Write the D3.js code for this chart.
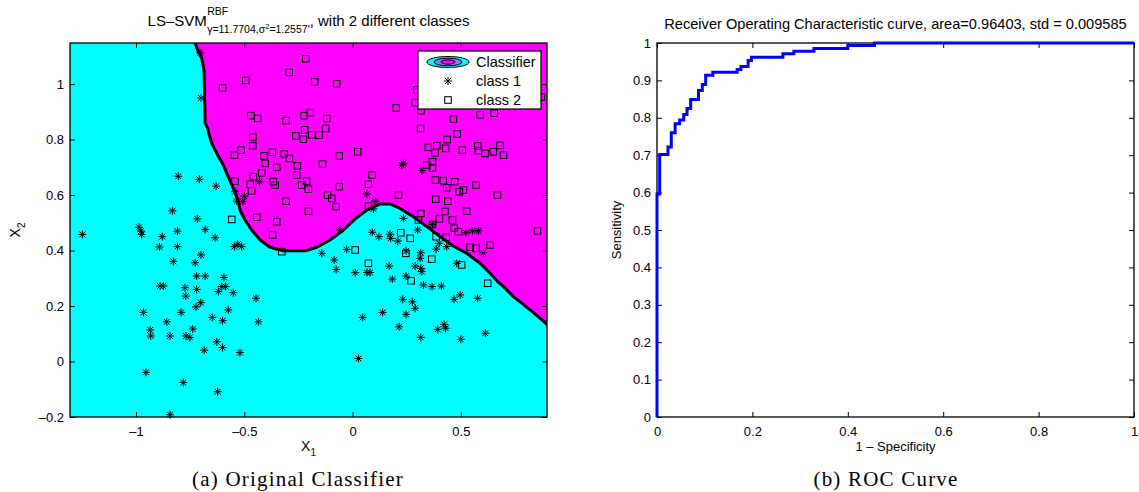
<!DOCTYPE html>
<html><head><meta charset="utf-8">
<script src="https://cdn.jsdelivr.net/npm/d3@7"></script>
<style>
body{margin:0;background:#fff}
svg{display:block}
text{font-family:"Liberation Sans",Arial,Helvetica,sans-serif;fill:#000}
</style>
</head><body>
<svg id="c" width="1139" height="492"></svg>
<script>
// ---------------- DATA ----------------
// Panel (a): LS-SVM classifier
const xLimA = [-1.305, 0.898];
const yLimA = [-0.2, 1.148];
const xTicksA = [-1, -0.5, 0, 0.5];
const yTicksA = [-0.2, 0, 0.2, 0.4, 0.6, 0.8, 1];

const class1 = [
[-0.704,1.112],[-0.700,0.950],[-1.248,0.458],[-0.986,0.484],[-0.977,0.470],[-0.974,0.458],[-0.879,0.450],[-0.892,0.413],[-0.809,0.470],[-0.809,0.414],[-0.828,0.361],[-0.832,0.543],[-0.805,0.668],[-0.708,0.657],[-0.630,0.632],[-0.717,0.514],[-0.681,0.476],[-0.635,0.446],[-0.700,0.384],[-0.727,0.356],[-0.720,0.308],[-0.681,0.308],[-0.594,0.303],[-0.889,0.272],[-0.874,0.272],[-0.774,0.266],[-0.720,0.260],[-0.604,0.270],[-0.586,0.270],[-0.546,0.414],[-0.530,0.423],[-0.512,0.414],[-0.543,0.612],[-0.535,0.578],[-0.507,0.576],[-0.500,0.596],[-0.430,0.648],[-0.142,0.390],[-0.085,0.366],[-0.076,0.332],[-0.027,0.404],[0.012,0.320],
[0.235,0.714],[0.227,0.708],[0.320,0.688],[0.066,0.604],[0.105,0.578],[0.096,0.550],[-0.058,0.474],[0.235,0.516],[0.370,0.494],[0.301,0.474],[0.523,0.464],[0.553,0.471],[0.581,0.471],[0.091,0.466],[0.122,0.450],[0.173,0.459],[0.176,0.444],[0.209,0.434],[0.247,0.399],[0.315,0.392],[0.386,0.405],[0.400,0.426],[0.435,0.414],[0.604,0.392],[0.312,0.372],[0.289,0.344],[0.315,0.336],[0.320,0.324],[0.169,0.344],[0.066,0.321],[0.081,0.321],[0.184,0.297],[0.247,0.308],[0.481,0.354],[0.327,0.276],[0.367,0.270],[0.410,0.272],
[-0.770,0.236],[-0.723,0.197],[-0.701,0.212],[-0.620,0.252],[-0.551,0.248],[-0.446,0.228],[-0.966,0.177],[-0.792,0.177],[-0.574,0.186],[-0.648,0.159],[-0.600,0.147],[-0.435,0.143],[-0.858,0.143],[-0.935,0.114],[-0.932,0.092],[-0.843,0.092],[-0.738,0.117],[-0.769,0.092],[-0.751,0.087],[-0.627,0.071],[-0.601,0.050],[-0.685,0.041],[-0.520,0.032],[-0.954,-0.039],[-0.782,-0.076],[-0.623,-0.109],[-0.843,-0.192],[0.027,0.011],
[0.469,0.224],[0.497,0.240],[0.578,0.228],[0.232,0.224],[0.276,0.215],[0.289,0.192],[0.139,0.177],[0.047,0.159],[0.247,0.170],[0.215,0.125],[0.394,0.116],[0.423,0.134],[0.430,0.120],[0.315,0.087],[0.500,0.080],[0.613,0.102]
];

const class2 = [
[-0.216,1.091],[-0.293,1.042],[-0.493,1.013],[-0.600,0.986],[-0.175,1.008],[-0.073,1.001],[-0.470,0.886],[-0.438,0.876],[-0.307,0.868],[-0.224,0.886],[-0.196,0.897],[-0.119,0.876],[-0.221,0.835],[-0.124,0.840],[-0.460,0.809],[-0.262,0.813],[-0.188,0.817],[-0.155,0.816],
[0.201,0.914],[0.297,0.979],[0.289,0.933],[0.316,0.904],[0.314,0.840],[0.466,0.874],[0.589,0.889],[0.654,0.895],[0.483,0.820],[0.437,0.800],[0.871,0.953],
[-0.558,0.512],[-0.327,0.396],[0.012,0.402],[-0.546,0.744],[-0.515,0.762],[-0.461,0.778],[-0.458,0.666],[-0.543,0.650],[-0.473,0.639],[-0.466,0.615],[-0.419,0.680],[-0.409,0.741],[-0.404,0.714],[-0.370,0.754],[-0.350,0.700],[-0.366,0.648],[-0.358,0.636],[-0.316,0.748],[-0.292,0.732],[-0.255,0.705],[-0.258,0.672],[-0.235,0.636],[-0.212,0.650],[-0.204,0.621],[-0.307,0.578],[-0.442,0.520],[-0.350,0.504],[-0.369,0.456],[-0.204,0.542],[-0.116,0.600],[-0.096,0.588],[-0.076,0.558],[-0.062,0.630],[-0.139,0.712],[-0.062,0.741],[0.024,0.756],[-0.227,0.801],
[0.349,0.772],[0.389,0.778],[0.381,0.752],[0.430,0.768],[0.507,0.762],[0.578,0.777],[0.581,0.760],[0.612,0.750],[0.650,0.756],[0.681,0.779],[0.697,0.744],[0.090,0.672],[0.073,0.639],[0.343,0.708],[0.369,0.720],[0.369,0.698],[0.381,0.654],[0.419,0.652],[0.472,0.648],[0.435,0.626],[0.512,0.618],[0.493,0.612],[0.570,0.636],[0.669,0.600],[0.212,0.600],[0.384,0.585],[0.440,0.578],[0.073,0.560],[0.527,0.542],[0.427,0.541],[0.316,0.534],[0.401,0.514],[0.461,0.510],[0.369,0.494],[0.469,0.481],[0.489,0.468],[0.432,0.448],[0.386,0.450],[0.635,0.420],[0.543,0.412],[0.570,0.408],[0.854,0.471],[0.223,0.464],[0.266,0.444],[0.246,0.390],[0.366,0.369],[0.073,0.354],[0.504,0.348],[0.270,0.291],[0.624,0.282],[0.304,0.510]
];

// decision boundary (contour of the classifier), from top edge to right edge
const boundary = [
[-0.727,1.148],[-0.714,1.119],[-0.697,1.094],[-0.686,1.050],[-0.681,0.859],[-0.669,0.841],[-0.666,0.827],[-0.650,0.786],[-0.627,0.750],[-0.597,0.708],[-0.574,0.666],[-0.551,0.624],[-0.527,0.576],[-0.520,0.546],[-0.497,0.510],[-0.466,0.474],[-0.427,0.438],[-0.381,0.412],[-0.320,0.399],[-0.219,0.399],[-0.165,0.412],[-0.104,0.438],[-0.042,0.474],[0.012,0.514],[0.066,0.546],[0.127,0.568],[0.173,0.568],[0.219,0.552],[0.281,0.522],[0.343,0.486],[0.404,0.450],[0.466,0.416],[0.527,0.390],[0.589,0.354],[0.635,0.318],[0.673,0.286],[0.697,0.270],[0.743,0.234],[0.774,0.215],[0.820,0.186],[0.866,0.156],[0.900,0.132]
];

// Panel (b): ROC curve (step vertices: FPR where TPR jumps)
const rocFPR = [0, 0, 0.0056, 0.023, 0.030, 0.038, 0.0475, 0.056, 0.063, 0.0706, 0.087, 0.095, 0.102, 0.117, 0.168, 0.176, 0.191, 0.198, 0.264, 0.287, 0.329, 0.400, 0.456, 1];
const rocTPR = [0, 0.596, 0.702, 0.722, 0.760, 0.784, 0.794, 0.809, 0.825, 0.849, 0.873, 0.889, 0.914, 0.922, 0.929, 0.937, 0.953, 0.962, 0.971, 0.978, 0.985, 0.993, 1.0, 1.0];
const xTicksB = [0, 0.2, 0.4, 0.6, 0.8, 1];
const yTicksB = [0, 0.1, 0.2, 0.3, 0.4, 0.5, 0.6, 0.7, 0.8, 0.9, 1];

const legendLabels = ["Classifier", "class 1", "class 2"];

// ---------------- DRAW ----------------
const svg = d3.select("#c");
const defs = svg.append("defs");
const fmt = d => (d < 0 ? "\u2013" + String(Math.abs(d)) : String(d));
const TICK_FS = 13;

function frameAxes(g, x, y, box, xt, yt) {
  const ax = [
    [d3.axisBottom(x).tickValues(xt).tickFormat(fmt).tickPadding(10), `translate(0,${box.bottom})`],
    [d3.axisTop(x).tickValues(xt).tickFormat(""), `translate(0,${box.top})`],
    [d3.axisLeft(y).tickValues(yt).tickFormat(fmt).tickPadding(6), `translate(${box.left},0)`],
    [d3.axisRight(y).tickValues(yt).tickFormat(""), `translate(${box.right},0)`]
  ];
  ax.forEach(([a, t]) => {
    const s = g.append("g").attr("transform", t)
      .call(a.tickSizeInner(-5).tickSizeOuter(0));
    s.select(".domain").remove();
    s.selectAll("line").attr("stroke", "#000").attr("stroke-width", 1);
    s.selectAll("text").style("font-size", TICK_FS + "px")
      .style("font-family", '"Liberation Sans",Arial,sans-serif').attr("fill", "#000");
  });
  g.append("rect").attr("x", box.left).attr("y", box.top)
    .attr("width", box.right - box.left).attr("height", box.bottom - box.top)
    .attr("fill", "none").attr("stroke", "#000").attr("stroke-width", 1.3);
}

// ---- Panel A ----
const A = {left: 70, right: 547, top: 43, bottom: 417};
const xA = d3.scaleLinear().domain(xLimA).range([A.left, A.right]);
const yA = d3.scaleLinear().domain(yLimA).range([A.bottom, A.top]);
defs.append("clipPath").attr("id", "clipA").append("rect")
  .attr("x", A.left).attr("y", A.top).attr("width", A.right - A.left).attr("height", A.bottom - A.top);

const gA = svg.append("g");
gA.append("rect").attr("x", A.left).attr("y", A.top)
  .attr("width", A.right - A.left).attr("height", A.bottom - A.top).attr("fill", "#00ffff");

const poly = boundary.concat([[xLimA[1], yLimA[1]]]);
gA.append("path").datum(poly).attr("clip-path", "url(#clipA)")
  .attr("d", d3.line().x(d => xA(d[0])).y(d => yA(d[1])).curve(d3.curveLinearClosed))
  .attr("fill", "#ff00ff");
gA.append("path").datum(boundary).attr("clip-path", "url(#clipA)")
  .attr("d", d3.line().x(d => xA(d[0])).y(d => yA(d[1])))
  .attr("fill", "none").attr("stroke", "#000").attr("stroke-width", 3).attr("stroke-linejoin", "round");

const starD = "M-4,0H4M0,-4V4M-2.9,-2.9L2.9,2.9M-2.9,2.9L2.9,-2.9";
gA.append("g").selectAll("path").data(class1).join("path")
  .attr("transform", d => `translate(${xA(d[0])},${yA(d[1])})`)
  .attr("d", starD).attr("stroke", "#000").attr("stroke-width", 1).attr("fill", "none");
const SQ = 6.6;
gA.append("g").selectAll("rect").data(class2).join("rect")
  .attr("x", d => xA(d[0]) - SQ / 2).attr("y", d => yA(d[1]) - SQ / 2)
  .attr("width", SQ).attr("height", SQ)
  .attr("fill", "none").attr("stroke", "#000").attr("stroke-width", 1);

frameAxes(gA, xA, yA, A, xTicksA, yTicksA);

// legend
const L = {x: 418, y: 51, w: 123, h: 58};
const lg = gA.append("g");
lg.append("rect").attr("x", L.x).attr("y", L.y).attr("width", L.w).attr("height", L.h)
  .attr("fill", "#fff").attr("stroke", "#000").attr("stroke-width", 1.2);
const rowY = [62, 81, 100];
const icx = 448;
[[21, 5.5, "#00ffff"], [14, 3.8, "#8080ff"], [7, 2.2, "#ff00ff"]].forEach(([rx, ry, c]) => {
  lg.append("ellipse").attr("cx", icx).attr("cy", rowY[0]).attr("rx", rx).attr("ry", ry)
    .attr("fill", c).attr("stroke", "#000").attr("stroke-width", 1);
});
lg.append("path").attr("transform", `translate(${icx},${rowY[1]})`).attr("d", starD)
  .attr("stroke", "#000").attr("fill", "none");
lg.append("rect").attr("x", icx - SQ / 2).attr("y", rowY[2] - SQ / 2).attr("width", SQ).attr("height", SQ)
  .attr("fill", "none").attr("stroke", "#000");
legendLabels.forEach((t, i) => {
  lg.append("text").attr("x", 476).attr("y", rowY[i] + 5).style("font-size", "14.5px").text(t);
});

// title A with super/subscript
const tA = gA.append("g");
const mainT = tA.append("text").attr("x", 0).attr("y", 0).style("font-size", "15px").text("LS\u2013SVM");
const w1 = mainT.node().getComputedTextLength();
const sup = tA.append("text").attr("x", w1 + 0.5).attr("y", -11).style("font-size", "10.5px").text("RBF");
const sub = tA.append("text").attr("x", w1 + 0.5).attr("y", 7).style("font-size", "10.5px");
sub.append("tspan").text("\u03b3=11.7704,\u03c3");
sub.append("tspan").attr("dy", -4.5).style("font-size", "7.5px").text("2");
sub.append("tspan").attr("dy", 4.5).text("=1.2557'");
const wSub = Math.max(sup.node().getComputedTextLength(), sub.node().getComputedTextLength());
const rest = tA.append("text").attr("x", w1 + 0.5 + wSub).attr("y", 0).style("font-size", "15px")
  .text(", with 2 different classes");
const wTot = w1 + 0.5 + wSub + rest.node().getComputedTextLength();
tA.attr("transform", `translate(${(A.left + A.right) / 2 - wTot / 2},26)`);

// axis labels A
const xl = gA.append("text").attr("x", (A.left + A.right) / 2).attr("y", 451)
  .attr("text-anchor", "middle").style("font-size", "14px");
xl.append("tspan").text("X");
xl.append("tspan").attr("dy", 5).style("font-size", "10px").text("1");
const yl = gA.append("text").attr("transform", `translate(20,${(A.top + A.bottom) / 2}) rotate(-90)`)
  .attr("text-anchor", "middle").style("font-size", "14px");
yl.append("tspan").text("X");
yl.append("tspan").attr("dy", 5).style("font-size", "10px").text("2");

// caption A
svg.append("text").attr("x", 298).attr("y", 486).attr("text-anchor", "middle")
  .style("font-family", '"Liberation Serif","Times New Roman",serif').style("font-size", "21px")
  .style("letter-spacing", "1.2px").text("(a) Original Classifier");

// ---- Panel B ----
const B = {left: 657, right: 1134, top: 43, bottom: 417};
const xB = d3.scaleLinear().domain([0, 1]).range([B.left, B.right]);
const yB = d3.scaleLinear().domain([0, 1]).range([B.bottom, B.top]);
const gB = svg.append("g");
frameAxes(gB, xB, yB, B, xTicksB, yTicksB);
const roc = rocFPR.map((f, i) => [f, rocTPR[i]]);
gB.append("path").datum(roc)
  .attr("d", d3.line().x(d => xB(d[0])).y(d => yB(d[1])).curve(d3.curveStepAfter))
  .attr("fill", "none").attr("stroke", "#0000ff").attr("stroke-width", 3);

gB.append("text").attr("x", (B.left + B.right) / 2).attr("y", 29).attr("text-anchor", "middle")
  .style("font-size", "14.6px")
  .text("Receiver Operating Characteristic curve, area=0.96403, std = 0.009585");
gB.append("text").attr("x", (B.left + B.right) / 2).attr("y", 451).attr("text-anchor", "middle")
  .style("font-size", "13px").text("1 \u2013 Specificity");
gB.append("text").attr("transform", `translate(621,${(B.top + B.bottom) / 2}) rotate(-90)`)
  .attr("text-anchor", "middle").style("font-size", "13px").text("Sensitivity");

svg.append("text").attr("x", 886).attr("y", 486).attr("text-anchor", "middle")
  .style("font-family", '"Liberation Serif","Times New Roman",serif').style("font-size", "21px")
  .style("letter-spacing", "1.2px").text("(b) ROC Curve");
</script>
</body></html>
